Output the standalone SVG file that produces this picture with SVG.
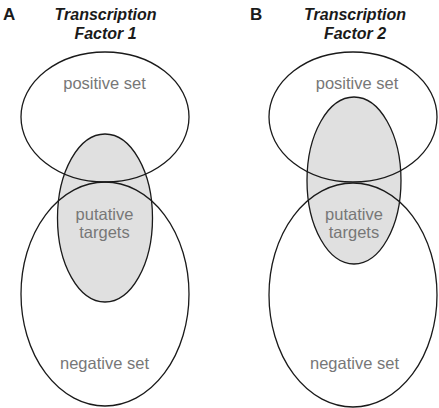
<svg xmlns="http://www.w3.org/2000/svg" width="439" height="408" viewBox="0 0 439 408">
<style>
.set{fill:none;stroke:#1a1a1a;stroke-width:1.3}
.put{fill:#e0e0e0;stroke:#1a1a1a;stroke-width:1.3}
.lbl{font-family:"Liberation Sans",Arial,sans-serif;font-size:16.5px;fill:#777;text-anchor:middle}
.ttl{font-family:"Liberation Sans",Arial,sans-serif;font-size:16px;font-weight:bold;font-style:italic;fill:#1a1a1a;text-anchor:middle}
.pl{font-family:"Liberation Sans",Arial,sans-serif;font-size:17px;font-weight:bold;fill:#1a1a1a}
</style>
<rect width="439" height="408" fill="#fff"/>
<g id="panelA">
  <text class="pl" x="3" y="20">A</text>
  <text class="ttl" x="105.5" y="20">Transcription</text>
  <text class="ttl" x="105.5" y="39">Factor 1</text>
  <g id="A-putative"><ellipse class="put" cx="105" cy="218" rx="47.5" ry="84"/></g>
  <g id="A-positive"><ellipse class="set" cx="105" cy="117" rx="84" ry="65"/></g>
  <g id="A-negative"><ellipse class="set" cx="105" cy="294" rx="84" ry="112"/></g>
  <text class="lbl" x="104.5" y="88.5">positive set</text>
  <text class="lbl" x="104.5" y="220">putative</text>
  <text class="lbl" x="104.5" y="237.5">targets</text>
  <text class="lbl" x="104.5" y="369">negative set</text>
</g>
<g id="panelB">
  <text class="pl" x="250" y="20">B</text>
  <text class="ttl" x="355" y="20">Transcription</text>
  <text class="ttl" x="355" y="39">Factor 2</text>
  <g id="B-putative"><ellipse class="put" cx="354" cy="180.5" rx="47" ry="83.5"/></g>
  <g id="B-positive"><ellipse class="set" cx="353" cy="117" rx="84" ry="65"/></g>
  <g id="B-negative"><ellipse class="set" cx="353" cy="295" rx="84" ry="112"/></g>
  <text class="lbl" x="357" y="88.5">positive set</text>
  <text class="lbl" x="354" y="220">putative</text>
  <text class="lbl" x="354" y="237.5">targets</text>
  <text class="lbl" x="354.5" y="369">negative set</text>
</g>
<g id="connectors"/>
</svg>
